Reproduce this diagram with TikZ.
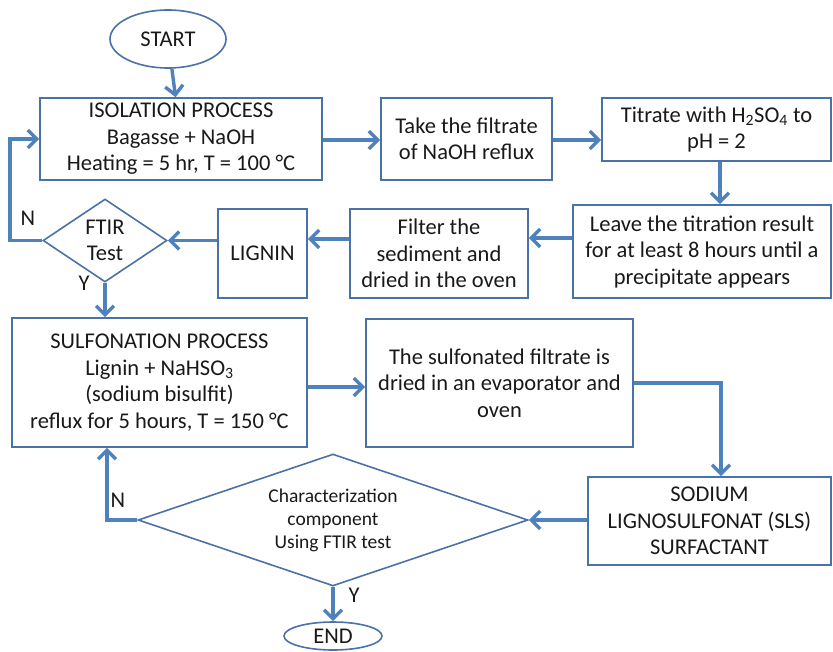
\documentclass[tikz,border=0pt]{standalone}
\usepackage{fontspec}
\setmainfont{Carlito}
\usetikzlibrary{arrows.meta,shapes.geometric}
\definecolor{boxBlue}{RGB}{74,114,168}
\definecolor{flowBlue}{RGB}{79,129,189}
\definecolor{inkDark}{RGB}{25,25,25}

\begin{document}
\begin{tikzpicture}[x=1pt,y=-1pt,
  every node/.style={font=\fontsize{22.5}{26.5}\selectfont,text=inkDark,align=center},
  procbox/.style={draw=boxBlue,line width=1.6pt,inner sep=1pt},
  termnode/.style={ellipse,draw=boxBlue,line width=1.6pt,inner sep=0pt},
  testnode/.style={diamond,draw=boxBlue,line width=1.6pt,inner sep=0pt},
  flow/.style={draw=flowBlue,line width=3.4pt,-{Straight Barb[length=9pt,width=18pt]}}]
\useasboundingbox (0,0) rectangle (833,651);

\node[termnode,minimum width=116,minimum height=58] (start) at (168,39) {START};
\node[procbox,minimum width=282,minimum height=82] (iso) at (181,139)
  {ISOLATION PROCESS\\Bagasse + NaOH\\Heating = 5 hr, T = 100 °C};
\node[procbox,minimum width=171,minimum height=82] (take) at (466.5,139)
  {Take the filtrate\\of NaOH reflux};
\node[procbox,minimum width=229,minimum height=63] (titr) at (716.5,129.5)
  {Titrate with H\textsubscript{2}SO\textsubscript{4} to\\pH = 2};
\node[procbox,minimum width=258,minimum height=93] (leave) at (702,251.5)
  {Leave the titration result\\for at least 8 hours until a\\precipitate appears};
\node[procbox,minimum width=178,minimum height=89] (filt) at (439,253.5)
  {Filter the\\sediment and\\dried in the oven};
\node[procbox,minimum width=89,minimum height=89] (lignin) at (262.5,253.5) {LIGNIN};
\node[testnode,minimum width=124,minimum height=83,aspect=1.5] (ftir) at (105,240.5)
  {FTIR\\Test};
\node[procbox,minimum width=295,minimum height=129] (sulf) at (159.5,382.5)
  {SULFONATION PROCESS\\Lignin + NaHSO\textsubscript{3}\\(sodium bisulfit)\\reflux for 5 hours, T = 150 °C};
\node[procbox,minimum width=267,minimum height=128] (evap) at (499.5,383)
  {The sulfonated filtrate is\\dried in an evaporator and\\oven};
\node[procbox,minimum width=243,minimum height=88] (sls) at (709.5,521)
  {SODIUM\\LIGNOSULFONAT (SLS)\\SURFACTANT};
\node[testnode,minimum width=390,minimum height=132,aspect=3,
  font=\fontsize{19.5}{23}\selectfont] (char) at (333,520)
  {Characterization\\component\\Using FTIR test};
\node[termnode,minimum width=98,minimum height=28] (end) at (333,636) {END};

\coordinate (nloop) at (10,240.5);
\coordinate (nback) at (107,520);

\draw[flow] (start) -- (iso);
\draw[flow] (iso.east |- 0,140) -- (take.west |- 0,140);
\draw[flow] (take.east |- 0,140) -- (titr.west |- 0,140);
\draw[flow] (titr.south -| 720,0) -- (leave.north -| 720,0);
\draw[flow] (leave.west |- 0,238) -- (filt.east |- 0,238);
\draw[flow] (filt.west |- 0,239) -- (lignin.east |- 0,239);
\draw[flow] (lignin.west |- ftir.east) -- (ftir.east);
\draw[flow] (ftir.west) -- (nloop) |- (iso.west);
\draw[flow] (ftir.south) -- (ftir.south |- sulf.north);
\draw[flow] (sulf.east |- 0,387) -- (evap.west |- 0,387);
\draw[flow] (evap.east) -| (sls.north -| 721,0);
\draw[flow] (sls.west |- char.east) -- (char.east);
\draw[flow] (char.west) -- (nback) -- (nback |- sulf.south);
\draw[flow] (char.south) -- (end.north);

\node (nlab1) at (28,218) {N};
\node (ylab1) at (84,283) {Y};
\node (nlab2) at (118,500) {N};
\node (ylab2) at (354,595) {Y};
\end{tikzpicture}
\end{document}
